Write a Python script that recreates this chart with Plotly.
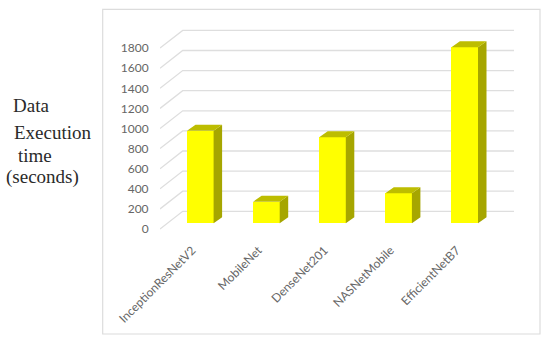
import plotly.graph_objects as go

# Data
categories = ["InceptionResNetV2", "MobileNet", "DenseNet201", "NASNetMobile", "EfficientNetB7"]
exec_time = [921, 215, 855, 298, 1751]
tick_values = [0, 200, 400, 600, 800, 1000, 1200, 1400, 1600, 1800]
side_labels = ["Data", "Execution", "time", "(seconds)"]

# Layout constants (page pixels); the page's body margin is removed at the end
W, H = 550, 345
L, R, T, B = 160, 515, 20, 240
PX_X = 66.1        # px per category
PX_Y = 0.1005      # px per value unit
X0 = 200.3         # pixel of first category centre
FRONT_Y0 = 229.0   # pixel of value 0 on the front plane (tick labels)
BAR_Y0 = 223.3     # pixel of value 0 on the bar plane
BACK_Y0 = 211.3    # pixel of value 0 on the back wall
BACK_X = 182.7
GRID_END = 514.0
BAR_W = 26.6 / PX_X
DX = 8.5 / PX_X
DY = 6.0 / PX_Y
LABEL_SHIFT = 8 / PX_X

GRID = "#DEDEDE"
TEXT = "#666666"
FRONT = "#FFFF00"
TOP = "#BDBD00"
SIDE = "#A6A600"


def xv(px):
    return (px - X0) / PX_X


def paper_x(px):
    return (px - L) / (R - L)


def paper_y(py):
    return (B - py) / (B - T)


xrange = [xv(L), xv(R)]
span = (B - T) / PX_Y
y_front = [-(B - FRONT_Y0) / PX_Y, -(B - FRONT_Y0) / PX_Y + span]
y_bar = [-(B - BAR_Y0) / PX_Y, -(B - BAR_Y0) / PX_Y + span]
back_shift = (FRONT_Y0 - BACK_Y0) / PX_Y

fig = go.Figure()

# Wall grid and floor/side diagonals, on the front-plane axis
gx, gy = [], []
for v in tick_values:
    gx += [xv(L), xv(BACK_X), xv(GRID_END), None]
    gy += [v, v + back_shift, v + back_shift, None]
fig.add_trace(go.Scatter(x=gx, y=gy, mode="lines", line=dict(color=GRID, width=1.3),
                         hoverinfo="skip", showlegend=False, xaxis="x", yaxis="y"))

# Bars, on an overlaying axis so they sit above the grid
xs = list(range(len(categories)))
fig.add_trace(go.Bar(x=xs, y=exec_time, width=BAR_W, marker=dict(color=FRONT, line=dict(width=0)),
                     showlegend=False, xaxis="x", yaxis="y2"))

side_x, side_y, top_x, top_y = [], [], [], []
for x, v in zip(xs, exec_time):
    r = x + BAR_W / 2
    l = x - BAR_W / 2
    side_x += [r, r + DX, r + DX, r, r, None]
    side_y += [0, DY, v + DY, v, 0, None]
    top_x += [l, l + DX, r + DX, r, l, None]
    top_y += [v, v + DY, v + DY, v, v, None]
for px, py, col in ((side_x, side_y, SIDE), (top_x, top_y, TOP)):
    fig.add_trace(go.Scatter(x=px, y=py, mode="lines", fill="toself", fillcolor=col,
                             line=dict(width=0, color=col), hoverinfo="skip",
                             showlegend=False, xaxis="x", yaxis="y2"))

# Side text
label_pos = [(13, 106), (14, 132), (18, 155.5), (6, 177)]
annotations = [
    dict(text=t, x=paper_x(px), y=paper_y(py), xref="paper", yref="paper", xanchor="left",
         yanchor="middle", showarrow=False, borderpad=0, borderwidth=0,
         font=dict(family="Liberation Serif", size=19, color="#2A2A2A"))
    for t, (px, py) in zip(side_labels, label_pos)
]

fig.update_layout(
    width=W, height=H, autosize=False,
    margin=dict(l=L, r=W - R, t=T, b=H - B, pad=0),
    paper_bgcolor="white", plot_bgcolor="rgba(0,0,0,0)",
    font=dict(family="Lato", color=TEXT),
    bargap=0,
    annotations=annotations,
    xaxis=dict(range=xrange, tickmode="array", tickvals=[x - LABEL_SHIFT for x in xs],
               ticktext=categories, tickangle=-45, showgrid=False, zeroline=False,
               showline=False, ticks="", tickfont=dict(size=12, color=TEXT)),
    yaxis=dict(range=y_front, tickmode="array", tickvals=tick_values,
               ticktext=[str(v) for v in tick_values], showgrid=False, zeroline=False,
               showline=False, ticks="outside", ticklen=8, tickcolor="rgba(0,0,0,0)",
               tickfont=dict(size=12, color=TEXT)),
    yaxis2=dict(range=y_bar, overlaying="y", side="left", visible=False),
    shapes=[dict(type="rect", xref="paper", yref="paper",
                 x0=paper_x(102.7), x1=paper_x(540),
                 y0=paper_y(334), y1=paper_y(9.3),
                 line=dict(color="#DCDCDC", width=1.2), fillcolor="rgba(0,0,0,0)", layer="below")],
)

fig.write_html("out.html", config={"displayModeBar": False},
               post_script="document.body.style.margin='0';")
